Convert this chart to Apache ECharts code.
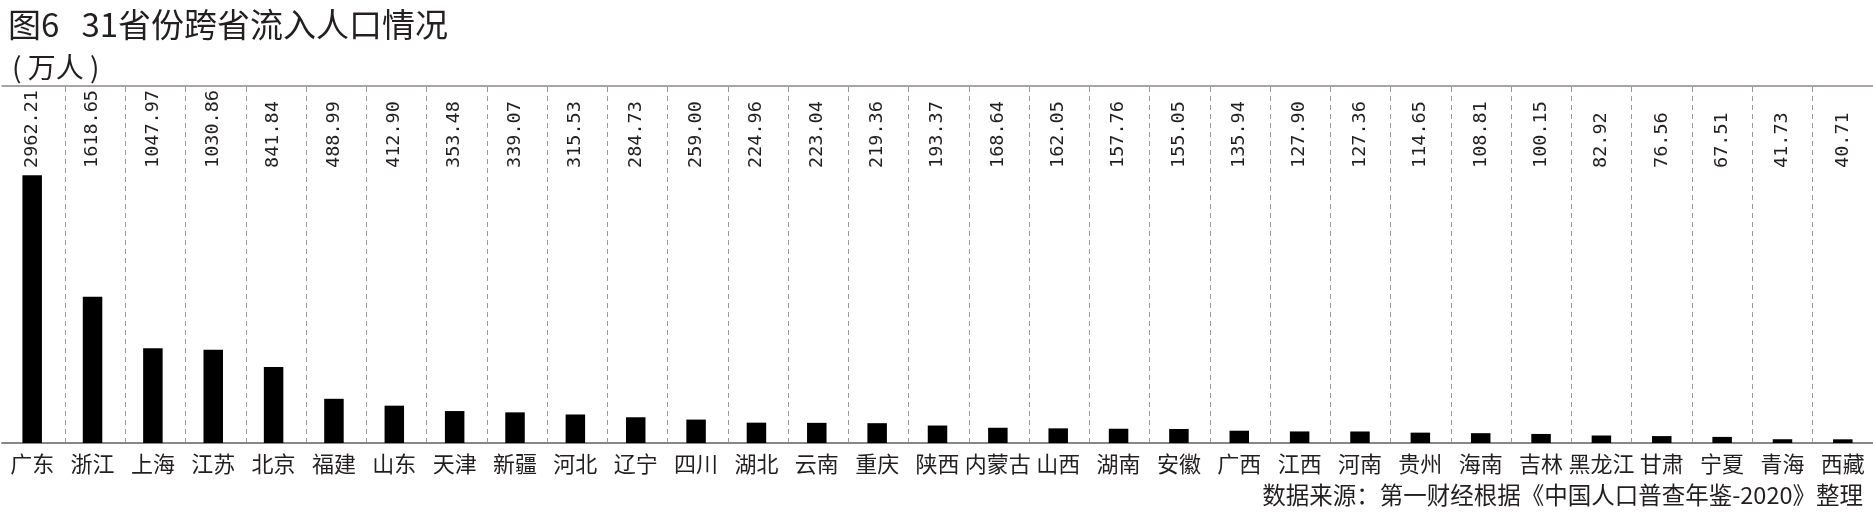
<!DOCTYPE html>
<html><head><meta charset="utf-8">
<script src="https://cdn.jsdelivr.net/npm/echarts@6/dist/echarts.min.js"></script>
<style>html,body{margin:0;padding:0;background:#fff}#c{width:1873px;height:523px}</style>
</head><body><div id="c"></div>
<script>
const provinces = ['广东','浙江','上海','江苏','北京','福建','山东','天津','新疆','河北','辽宁','四川','湖北','云南','重庆','陕西','内蒙古','山西','湖南','安徽','广西','江西','河南','贵州','海南','吉林','黑龙江','甘肃','宁夏','青海','西藏'];
const inflow = [2962.21,1618.65,1047.97,1030.86,841.84,488.99,412.90,353.48,339.07,315.53,284.73,259.00,224.96,223.04,219.36,193.37,168.64,162.05,157.76,155.05,135.94,127.90,127.36,114.65,108.81,100.15,82.92,76.56,67.51,41.73,40.71];
const valueLabels = inflow.map(v => v.toFixed(2));
const titleText = '图6   31省份跨省流入人口情况';
const unitText = '( 万人 )';
const sourceText = '数据来源：第一财经根据《中国人口普查年鉴-2020》整理';

const CJK = '"Noto Sans CJK SC", "Noto Sans", sans-serif';
const TXT = '#231f20';
const chart = echarts.init(document.getElementById('c'));
chart.setOption({
  animation: false,
  backgroundColor: '#fff',
  title: [
    {text: titleText, left: 3, top: 3, textStyle: {fontFamily: CJK, fontSize: 33, fontWeight: 'normal', color: TXT}},
    {text: unitText, left: 7, top: 48, textStyle: {fontFamily: CJK, fontSize: 28, fontWeight: 'normal', color: TXT}},
    {text: sourceText, right: 5, top: 478, textStyle: {fontFamily: CJK, fontSize: 23.5, fontWeight: 'normal', color: TXT}}
  ],
  grid: [
    {left: 2, right: -3, top: 86, bottom: 80},
    {left: 4.75, right: 0.5, top: 87, bottom: 80}
  ],
  xAxis: [
    {type: 'category', gridIndex: 0, position: 'bottom', data: provinces,
     axisLine: {lineStyle: {color: '#8a8685', width: 2}}, axisTick: {show: false},
     axisLabel: {interval: 0, margin: 10, fontFamily: CJK, fontSize: 22, color: TXT}},
    {type: 'category', gridIndex: 0, position: 'top', data: valueLabels,
     axisLine: {lineStyle: {color: '#8a8685', width: 1.5}}, axisTick: {show: false},
     axisLabel: {interval: 0, inside: true, rotate: -90, align: 'left', verticalAlign: 'middle', margin: 82,
       fontFamily: '"DejaVu Sans Mono", monospace', fontSize: 18.5, color: TXT}},
    {type: 'category', gridIndex: 1, data: provinces,
     axisLine: {show: false}, axisTick: {show: false}, axisLabel: {show: false},
     splitLine: {show: true, showMinLine: false, showMaxLine: false, lineStyle: {color: '#9a9a9a', width: 1, type: [5, 4]}}}
  ],
  yAxis: [
    {type: 'value', gridIndex: 0, min: 0, max: 3950, show: false},
    {type: 'value', gridIndex: 1, show: false}
  ],
  series: [
    {type: 'bar', xAxisIndex: 0, yAxisIndex: 0, data: inflow, barWidth: 19.5, itemStyle: {color: '#000'}}
  ]
});
</script></body></html>
